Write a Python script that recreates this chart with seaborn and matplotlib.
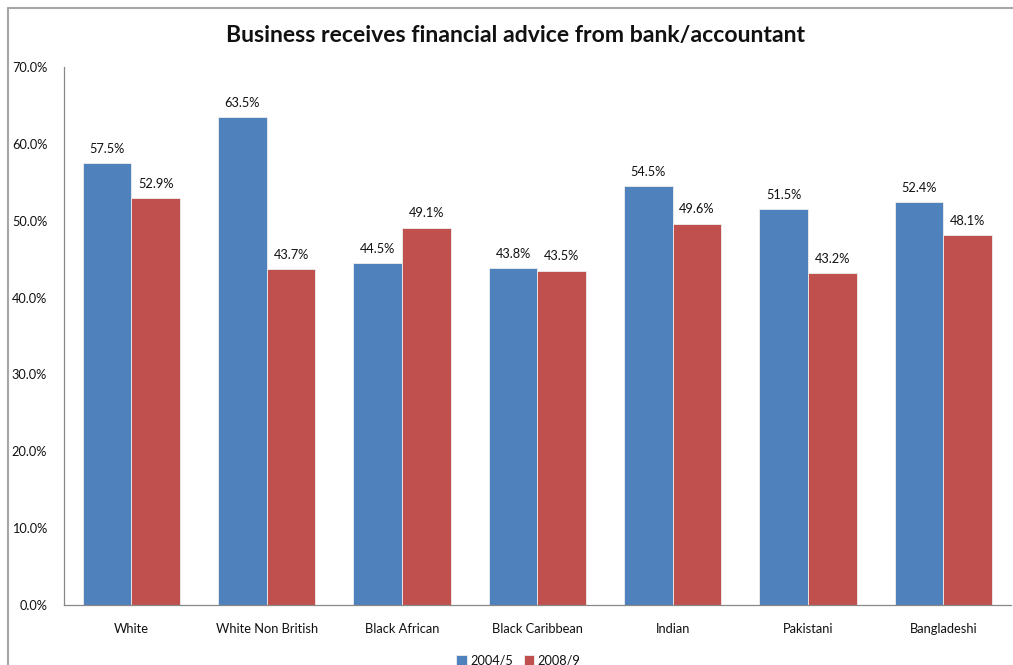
import matplotlib
matplotlib.use("Agg")
import matplotlib.pyplot as plt
from matplotlib.lines import Line2D
from matplotlib.ticker import FuncFormatter
import seaborn as sns
import pandas as pd

categories = ["White", "White Non British", "Black African", "Black Caribbean",
              "Indian", "Pakistani", "Bangladeshi"]
series_names = ["2004/5", "2008/9"]
values_2004 = [57.5, 63.5, 44.5, 43.8, 54.5, 51.5, 52.4]
values_2008 = [52.9, 43.7, 49.1, 43.5, 49.6, 43.2, 48.1]
colors = ["#4F81BD", "#C0504D"]

df = pd.DataFrame({
    "group": categories * 2,
    "period": [series_names[0]] * len(categories) + [series_names[1]] * len(categories),
    "value": values_2004 + values_2008,
})

sns.set_theme(style="white")
plt.rcParams["font.family"] = ["Lato", "DejaVu Sans"]

fig = plt.figure(figsize=(10.13, 6.65), dpi=100)
ax = fig.add_axes([0.063, 0.0902, 0.935, 0.809])

sns.barplot(data=df, x="group", y="value", hue="period", order=categories,
            hue_order=series_names, palette=colors, width=0.72, ax=ax,
            edgecolor="#eeeeee", linewidth=0.6, saturation=1, errorbar=None,
            legend=True)

for cont in ax.containers:
    ax.bar_label(cont, labels=[f"{v:.1f}%" for v in cont.datavalues],
                 padding=6, fontsize=9.2, color="#111111")

ax.set_ylim(0, 70)
ax.set_yticks(range(0, 71, 10))
ax.yaxis.set_major_formatter(FuncFormatter(lambda v, _: f"{v:.1f}%"))
ax.set_xlim(-0.5, len(categories) - 0.5)
ax.set_xlabel("")
ax.set_ylabel("")
ax.tick_params(axis="y", labelsize=9.2, pad=12, length=0, colors="#111111")
ax.tick_params(axis="x", labelsize=9.3, pad=13, length=0, colors="#111111")
for side in ["top", "right"]:
    ax.spines[side].set_visible(False)
for side in ["left", "bottom"]:
    ax.spines[side].set_color("#888888")
    ax.spines[side].set_linewidth(0.9)

leg = ax.legend(loc="lower center", bbox_to_anchor=(0.48, -0.135), ncol=2,
                frameon=False, fontsize=9.2, handlelength=0.8, handleheight=0.8,
                handletextpad=0.3, columnspacing=0.8)
for t in leg.get_texts():
    t.set_color("#111111")

fig.text(0.509, 0.947, "Business receives financial advice from bank/accountant",
         ha="center", va="center", fontsize=16.6, fontweight="bold", color="#111111")

# outer chart frame: top and left edges
x0 = 8 / 1013
y0 = 1 - 8 / 665
fig.add_artist(Line2D([x0, 1.0], [y0, y0], transform=fig.transFigure,
                      color="#a6a6a6", linewidth=1.5))
fig.add_artist(Line2D([x0, x0], [0.0, y0], transform=fig.transFigure,
                      color="#a6a6a6", linewidth=1.5))

fig.savefig("out.png", dpi=100, facecolor="white")
